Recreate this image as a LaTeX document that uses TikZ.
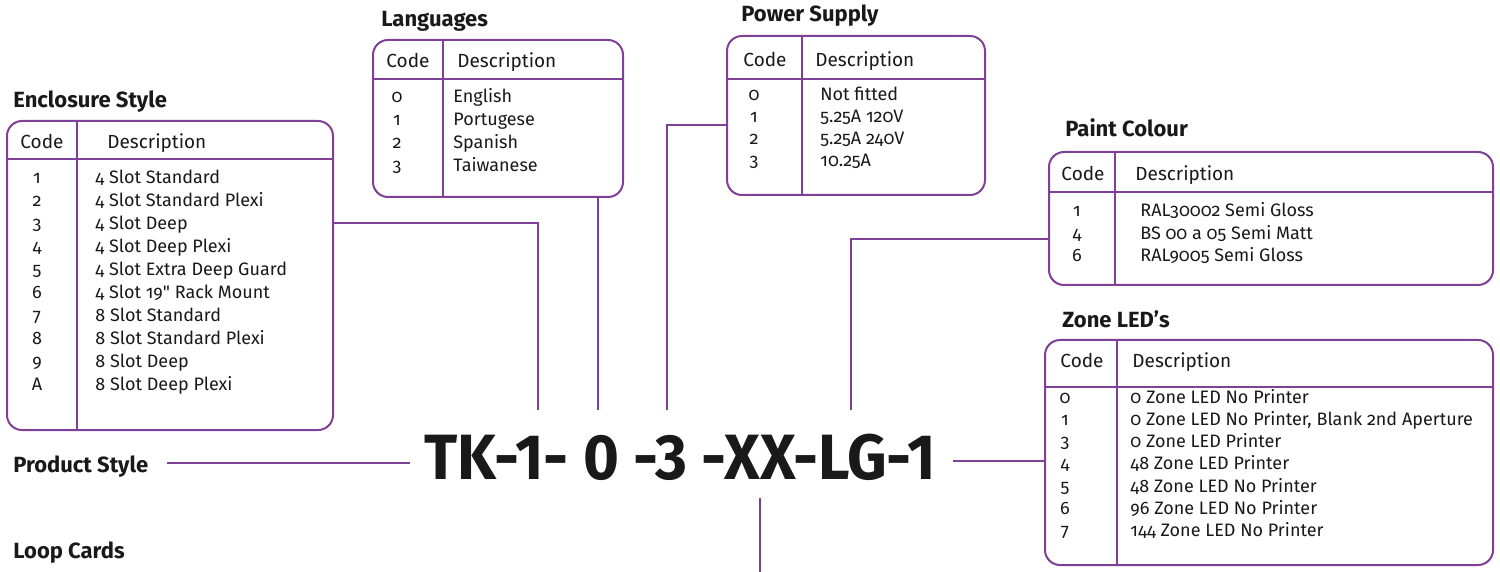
\documentclass[tikz,border=0pt]{standalone}
\usepackage{fontspec}
\setmainfont{Fira Sans}[Numbers=OldStyle]
\newfontfamily\titlefont{Fira Sans}
\newfontfamily\codefont{Fira Sans}[FakeStretch=0.96]
\usetikzlibrary{positioning, fit}

\definecolor{lilac}{RGB}{128,64,152}
\definecolor{ink}{RGB}{25,25,25}

\tikzset{
    tbl/.style={draw=lilac, line width=1pt, rounded corners=7.5pt, inner sep=0pt},
    rule/.style={draw=lilac, line width=1pt},
    link/.style={draw=lilac, line width=1pt},
    title/.style={anchor=base west, inner sep=0pt, text=ink, font=\titlefont\bfseries\fontsize{11}{13}\selectfont},
    head/.style={anchor=base, inner sep=0pt, text=ink, font=\fontsize{9.5}{11}\selectfont},
    headdesc/.style={head, anchor=base west},
    item/.style={anchor=base, inner sep=0pt, text=ink, font=\fontsize{9}{11}\selectfont},
    desc/.style={item, anchor=base west},
}

\begin{document}
\begin{tikzpicture}[x=0.5pt, y=-0.5pt]
    \useasboundingbox (0,0) rectangle (1500,572);

    % product code
    \node[anchor=base, inner sep=0pt, text=ink, font=\codefont\bfseries\fontsize{32}{36}\selectfont] (code) at (680.5,479) {TK-1- 0 -3 -XX-LG-1};
    \node[title] (prod) at (13,473) {Product Style};
    \node[title] (loop) at (13,558) {Loop Cards};

    % enclosure style
    \node[tbl, fit={(7,121) (333,430)}] (enc) {};
    \draw[rule] (enc.west |- 0,159) -- (enc.east |- 0,159);
    \draw[rule] (enc.north -| 77,0) -- (enc.south -| 77,0);
    \node[title] (encT) at (13,108) {Enclosure Style};
    \node[head] (encC) at (42,149) {Code};
    \node[headdesc] (encD) at (107,149) {Description};
    \foreach \c/\d [count=\i] in {1/4 Slot Standard, 2/4 Slot Standard Plexi, 3/4 Slot Deep, 4/4 Slot Deep Plexi, 5/4 Slot Extra Deep Guard, 6/4 Slot 19\textquotedbl{} Rack Mount, 7/8 Slot Standard, 8/8 Slot Standard Plexi, 9/8 Slot Deep, A/8 Slot Deep Plexi} {
        \node[item] (enc-c\i) at (37,{184+22.9*(\i-1)}) {\c};
        \node[desc] (enc-d\i) at (95,{184+22.9*(\i-1)}) {\d};
    }

    % languages
    \node[tbl, fit={(373,40) (623,197)}] (lang) {};
    \draw[rule] (lang.west |- 0,79) -- (lang.east |- 0,79);
    \draw[rule] (lang.north -| 443,0) -- (lang.south -| 443,0);
    \node[title] (langT) at (381,27) {Languages};
    \node[head] (langC) at (408,68) {Code};
    \node[headdesc] (langD) at (457,68) {Description};
    \foreach \c/\d [count=\i] in {0/English, 1/Portugese, 2/Spanish, 3/Taiwanese} {
        \node[item] (lang-c\i) at (397,{103+23*(\i-1)}) {\c};
        \node[desc] (lang-d\i) at (453,{103+23*(\i-1)}) {\d};
    }

    % power supply
    \node[tbl, fit={(727,36) (985,195)}] (pow) {};
    \draw[rule] (pow.west |- 0,79) -- (pow.east |- 0,79);
    \draw[rule] (pow.north -| 802,0) -- (pow.south -| 802,0);
    \node[title] (powT) at (741,22) {Power Supply};
    \node[head] (powC) at (765,67) {Code};
    \node[headdesc] (powD) at (815,67) {Description};
    \foreach \c/\d [count=\i] in {0/Not fitted, 1/5.25A 120V, 2/5.25A 240V, 3/10.25A} {
        \node[item] (pow-c\i) at (754,{101+22*(\i-1)}) {\c};
        \node[desc] (pow-d\i) at (820,{101+22*(\i-1)}) {\d};
    }

    % paint colour
    \node[tbl, fit={(1049,152) (1493,285)}] (paint) {};
    \draw[rule] (paint.west |- 0,192) -- (paint.east |- 0,192);
    \draw[rule] (paint.north -| 1115,0) -- (paint.south -| 1115,0);
    \node[title] (paintT) at (1065,137) {Paint Colour};
    \node[head] (paintC) at (1083,181) {Code};
    \node[headdesc] (paintD) at (1135,181) {Description};
    \foreach \c/\d [count=\i] in {1/RAL30002 Semi Gloss, 4/BS 00 a 05 Semi Matt, 6/RAL9005 Semi Gloss} {
        \node[item] (paint-c\i) at (1077,{217+22.5*(\i-1)}) {\c};
        \node[desc] (paint-d\i) at (1140,{217+22.5*(\i-1)}) {\d};
    }

    % zone leds
    \node[tbl, fit={(1045,340) (1493,565)}] (zone) {};
    \draw[rule] (zone.west |- 0,387) -- (zone.east |- 0,387);
    \draw[rule] (zone.north -| 1117,0) -- (zone.south -| 1117,0);
    \node[title] (zoneT) at (1062,328) {Zone LED’s};
    \node[head] (zoneC) at (1082,368) {Code};
    \node[headdesc] (zoneD) at (1132,368) {Description};
    \foreach \c/\d [count=\i] in {0/0 Zone LED No Printer, 1/{0 Zone LED No Printer, Blank 2nd Aperture}, 3/0 Zone LED Printer, 4/48 Zone LED Printer, 5/48 Zone LED No Printer, 6/96 Zone LED No Printer, 7/144 Zone LED No Printer} {
        \node[item] (zone-c\i) at (1065,{403+22.33*(\i-1)}) {\c};
        \node[desc] (zone-d\i) at (1130,{403+22.33*(\i-1)}) {\d};
    }

    % connectors
    \coordinate (tapEnc) at (538,410);
    \coordinate (tapLang) at (598,410);
    \coordinate (tapPow) at (667,410);
    \coordinate (tapPaint) at (851,410);
    \coordinate (tapZone) at (953,461);
    \coordinate (tapProd) at (410,463);
    \coordinate (tapLoop) at (760,498);

    \draw[link] (enc.east |- 0,223) -| (tapEnc);
    \draw[link] (lang.south -| tapLang) -- (tapLang);
    \draw[link] (pow.west |- 0,125) -| (tapPow);
    \draw[link] (paint.west |- 0,239) -| (tapPaint);
    \draw[link] (tapZone) -- (zone.west |- tapZone);
    \draw[link, shorten <=9pt] (prod.east |- tapProd) -- (tapProd);
    \draw[link] (tapLoop) -- (tapLoop |- 0,572);
\end{tikzpicture}
\end{document}
